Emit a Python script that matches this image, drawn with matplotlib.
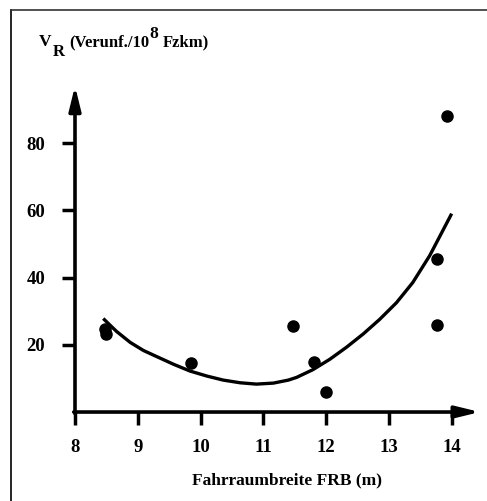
import matplotlib.pyplot as plt
from matplotlib.lines import Line2D

# measured points: Fahrraumbreite FRB (m) vs. V_R (Unfaelle / 10^8 Fzkm)
frb = [8.48, 8.5, 9.84, 11.47, 11.81, 12.0, 13.77, 13.76, 13.92]
vr = [24.6, 23.3, 14.5, 25.5, 15, 6, 26, 45.5, 88]

# regression curve
curve_x = [8.45, 8.66, 8.88, 9.09, 9.3, 9.57, 9.83, 10.1, 10.36, 10.63, 10.89,
           11.16, 11.4, 11.53, 11.79, 12.06, 12.32, 12.59, 12.85, 13.12, 13.38,
           13.65, 14.0]
curve_y = [27.8, 24.0, 20.7, 18.3, 16.5, 14.2, 12.2, 10.7, 9.5, 8.7, 8.3,
           8.6, 9.5, 10.3, 12.6, 15.7, 19.2, 23.2, 27.5, 32.5, 38.5,
           46.5, 59]

x_ticks = [8, 9, 10, 11, 12, 13, 14]
y_ticks = [20, 40, 60, 80]

plt.rcParams['font.family'] = ['Liberation Serif', 'DejaVu Serif']
plt.rcParams['font.weight'] = 'bold'

fig = plt.figure(figsize=(4.87, 5.01), dpi=100)
ax = fig.add_axes([0.154, 0.1776, 0.825, 0.651])

ax.plot(curve_x, curve_y, color='black', lw=2.4, solid_capstyle='butt',
        solid_joinstyle='round')
ax.plot(frb, vr, 'o', color='black', markersize=8)

ax.set_xlim(8, 14.4)
ax.set_ylim(0, 97)
for s in ax.spines.values():
    s.set_visible(False)

# axes with arrow heads
arrow = dict(arrowstyle='-|>,head_length=0.9,head_width=0.22', lw=2.6,
             color='black', mutation_scale=16, shrinkA=0, shrinkB=0)
ax.annotate('', xy=(14.45, 0), xytext=(7.98, 0), arrowprops=arrow,
            annotation_clip=False)
ax.annotate('', xy=(8, 97), xytext=(8, -0.5), arrowprops=arrow,
            annotation_clip=False)

ax.set_xticks(x_ticks)
ax.set_yticks(y_ticks)
ax.tick_params(direction='out', length=9.5, width=2.5, labelsize=13.5)
ax.tick_params(axis='x', pad=10)
ax.tick_params(axis='y', pad=12)
for lab in ax.get_xticklabels() + ax.get_yticklabels():
    lab.set_fontweight('bold')

fig.text(0.59, 0.042, 'Fahrraumbreite FRB (m)', ha='center', va='center',
         fontsize=12.5, fontweight='bold')

# y axis title built from pieces: V, subscript R, text, superscript 8, text
pieces = [('V', 0, 12.5, 1), ('R', -10, 12, 5), ('(Verunf./10', 0, 12, 0),
          ('8', 8, 12.5, 4), ('Fzkm)', 0, 12, 0)]
renderer = fig.canvas.get_renderer()
x_px = 39
base_y = 501 - 46
for s, dy, fs, gap in pieces:
    t = fig.text(x_px / 487, (base_y + dy) / 501, s, ha='left', va='baseline',
                 fontsize=fs, fontweight='bold')
    x_px += t.get_window_extent(renderer).width + gap

# scan border (top and left)
fig.add_artist(Line2D([11 / 487, 11 / 487], [0, 1 - 10 / 501], color='black', lw=1.2))
fig.add_artist(Line2D([11 / 487, 1], [1 - 10 / 501, 1 - 10 / 501], color='#333333', lw=1.2))

fig.savefig('out.png', dpi=100)
